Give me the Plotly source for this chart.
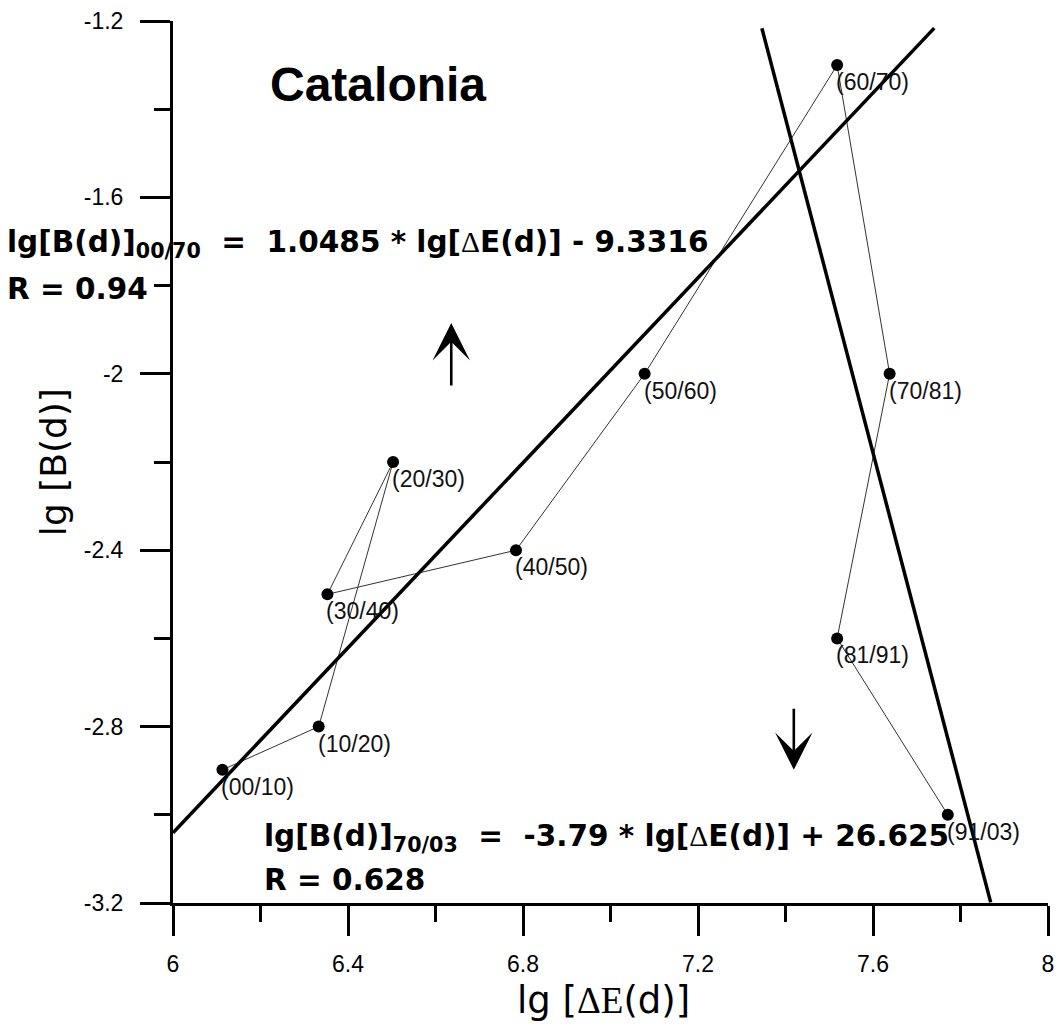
import numpy as np
import plotly.graph_objects as go

# Decade periods and their coordinates
periods = ["(00/10)", "(10/20)", "(20/30)", "(30/40)", "(40/50)",
           "(50/60)", "(60/70)", "(70/81)", "(81/91)", "(91/03)"]
lg_dE = [6.113, 6.333, 6.503, 6.353, 6.784, 7.078, 7.518, 7.638, 7.518, 7.771]
lg_B = [-2.898, -2.800, -2.200, -2.500, -2.400, -2.000, -1.300, -2.000, -2.600, -3.000]

# Regression lines: lg[B(d)] = slope * lg[dE(d)] + intercept
fit1_slope, fit1_intercept = 1.0485, -9.3316   # 1900-1970
fit1_x = np.array([6.0, 7.74])
fit2_slope, fit2_intercept = -3.79, 26.625     # 1970-2003
fit2_x = np.array([7.346, 7.869])

x_ticks = [6, 6.4, 6.8, 7.2, 7.6, 8]
y_ticks = [-3.2, -2.8, -2.4, -2.0, -1.6, -1.2]

SANS = "Liberation Sans, Arial, sans-serif"
WIDE = "DejaVu Sans, Verdana, sans-serif"
SERIF = "Liberation Serif, Times New Roman, serif"

fig = go.Figure()

# trajectory through the decades
fig.add_trace(go.Scatter(
    x=lg_dE, y=lg_B, mode="lines+markers",
    line=dict(color="#333333", width=1),
    marker=dict(color="black", size=12),
    showlegend=False, hoverinfo="skip",
))

# regression lines
fig.add_trace(go.Scatter(
    x=fit1_x, y=fit1_slope * fit1_x + fit1_intercept, mode="lines",
    line=dict(color="black", width=3.5), showlegend=False,
))
fig.add_trace(go.Scatter(
    x=fit2_x, y=fit2_slope * fit2_x + fit2_intercept, mode="lines",
    line=dict(color="black", width=3.5), showlegend=False,
))

annotations = []
# period labels, below-right of each point
for px, py, lab in zip(lg_dE, lg_B, periods):
    annotations.append(dict(
        x=px, y=py, xref="x", yref="y", text=lab, showarrow=False,
        xanchor="left", yanchor="top", xshift=-3, yshift=-2,
        font=dict(family=SANS, size=23, color="#111111"),
    ))

delta = f'<span style="font-family:{SERIF};font-weight:normal">Δ</span>'
eq1 = (f"lg[B(d)]<sub>00/70</sub>\u00a0\u00a0=\u00a0\u00a0{fit1_slope:.4f} * "
       f"lg[{delta}E(d)] - {abs(fit1_intercept):.4f}")
eq2 = (f"lg[B(d)]<sub>70/03</sub>\u00a0\u00a0=\u00a0\u00a0{fit2_slope:.2f} * "
       f"lg[{delta}E(d)] + {fit2_intercept:.3f}")

bold_font = dict(family=WIDE, size=29.5, color="black", weight="bold")
# (x in paper units, y in data units, text, font)
texts = [
    (0.108, -1.345, "Catalonia", dict(family=SANS, size=48, color="black", weight="bold")),
    (-0.192, -1.706, eq1, bold_font),
    (-0.192, -1.808, "R = 0.94", bold_font),
    (0.1015, -3.053, eq2, bold_font),
    (0.1015, -3.148, "R = 0.628", bold_font),
]
for tx, ty, t, f in texts:
    annotations.append(dict(
        x=tx, y=ty, xref="paper", yref="y", text=t, showarrow=False,
        xanchor="left", yanchor="middle", font=f,
    ))

# direction arrows
for tip_x, tip_y, tail_y in [(6.636, -1.885, -2.03), (7.419, -2.898, -2.756)]:
    annotations.append(dict(
        x=tip_x, y=tip_y, ax=tip_x, ay=tail_y, xref="x", yref="y",
        axref="x", ayref="y", text="", showarrow=True,
        arrowhead=3, arrowsize=2.4, arrowwidth=2.6, arrowcolor="black",
    ))

# axis titles
annotations.append(dict(
    x=-0.137, y=0.5, xref="paper", yref="paper", textangle=-90,
    text="lg [B(d)]", showarrow=False, xanchor="center", yanchor="middle",
    font=dict(family=WIDE, size=36, color="black"),
))
annotations.append(dict(
    x=0.4915, y=-0.11, xref="paper", yref="paper",
    text=f'lg [<span style="font-family:{SERIF}">ΔE</span>(d)]',
    showarrow=False, xanchor="center", yanchor="middle",
    font=dict(family=WIDE, size=37, color="black"),
))

axis_common = dict(
    showline=True, linecolor="black", linewidth=3, mirror=False,
    showgrid=False, zeroline=False,
    ticks="outside", ticklen=30, tickwidth=3, tickcolor="black",
    tickfont=dict(family=SANS, size=23, color="black"),
)

fig.update_layout(
    width=1062, height=1030,
    margin=dict(l=173, r=8, t=21, b=127),
    paper_bgcolor="white", plot_bgcolor="white",
    xaxis=dict(range=[6, 8], tickvals=x_ticks, ticktext=[f"{v:g}" for v in x_ticks],
               ticklabelstandoff=8,
               minor=dict(ticks="outside", ticklen=16, tickwidth=3,
                          tickcolor="black", dtick=0.2),
               **axis_common),
    yaxis=dict(range=[-3.2, -1.2], tickvals=y_ticks, ticktext=[f"{v:g}" for v in y_ticks],
               ticklabelstandoff=12,
               minor=dict(ticks="outside", ticklen=16, tickwidth=3,
                          tickcolor="black", dtick=0.2),
               **axis_common),
    annotations=annotations,
    showlegend=False,
)

fig.write_html("out.html")
